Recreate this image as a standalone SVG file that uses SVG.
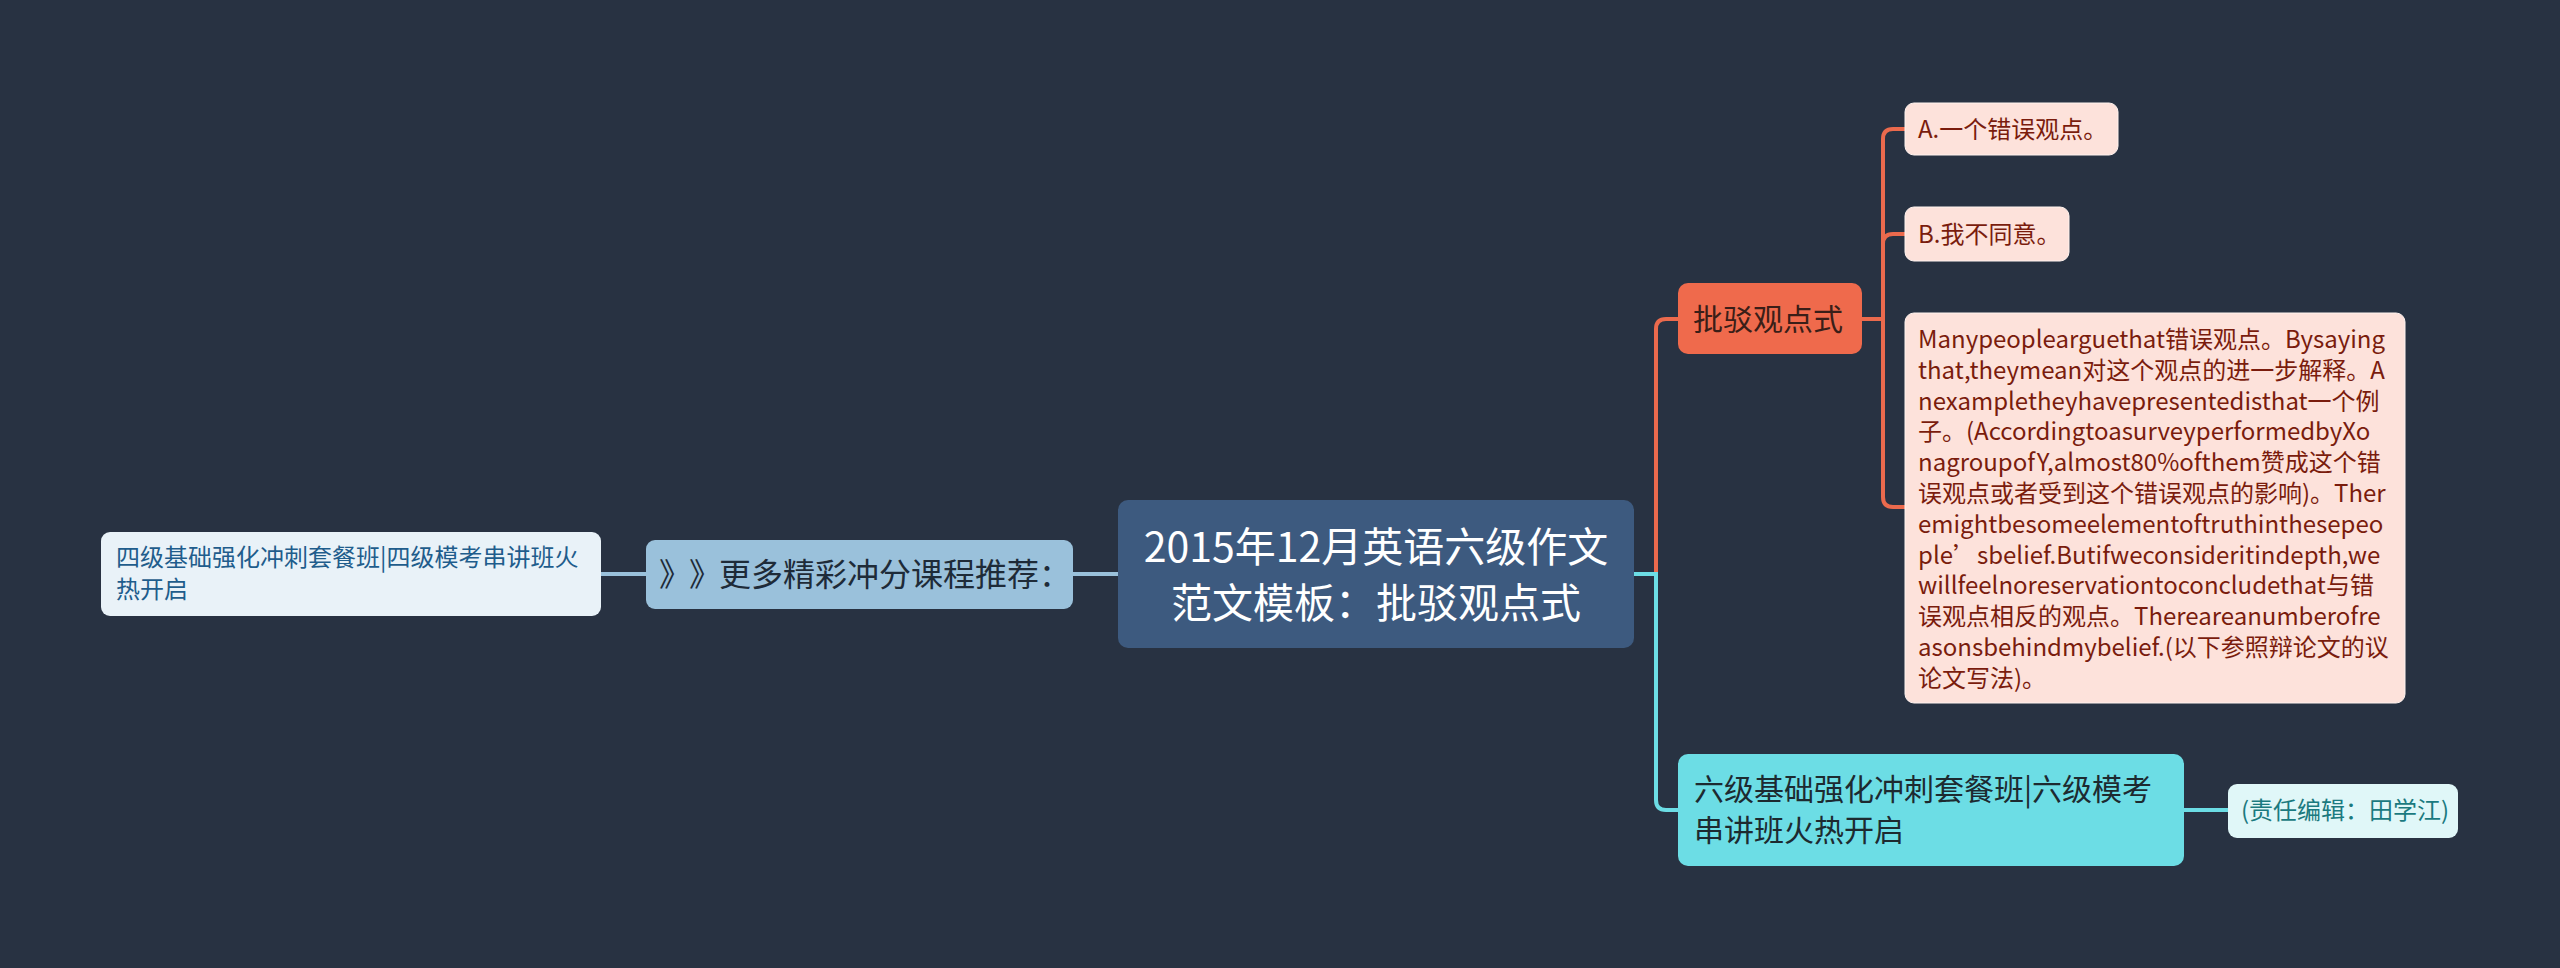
<svg xmlns="http://www.w3.org/2000/svg" width="2560" height="968" viewBox="0 0 2560 968">
<style>
text{font-family:"Noto Sans CJK SC","Noto Sans",sans-serif;}
.conn{fill:none;stroke-width:4;stroke-linecap:round;}
.blue{stroke:#9ac1db;}
.orange{stroke:#eb6a4d;}
.cyan{stroke:#6cdde5;}
.peach{fill:#fde2db;stroke:#fff3ef;stroke-width:1;}
.peachT{fill:#7a1c0d;font-size:24px;}
</style>
<rect width="2560" height="968" fill="#283242"/>
<g id="connectors">
<path class="conn blue" d="M601,574 H646"/>
<path class="conn blue" d="M1073,574 H1118"/>
<path class="conn orange" d="M1656,574 V329 Q1656,319 1666,319 H1678"/>
<path class="conn cyan" d="M1633,574 H1656 V800 Q1656,810 1666,810 H1678"/>
<path class="conn orange" d="M1862,319 H1883"/>
<path class="conn orange" d="M1883,319 V139 Q1883,129 1893,129 H1905"/>
<path class="conn orange" d="M1883,319 V244 Q1883,234 1893,234 H1905"/>
<path class="conn orange" d="M1883,319 V497 Q1883,507 1893,507 H1905"/>
<path class="conn cyan" d="M2184,810 H2228"/>
</g>
<g id="center">
<rect x="1118" y="500" width="516" height="148" rx="10" fill="#3d5a7f"/>
<text x="1376" y="562" font-size="41" fill="#ffffff" text-anchor="middle">2015年12月英语六级作文</text>
<text x="1376" y="618" font-size="41" fill="#ffffff" text-anchor="middle">范文模板：批驳观点式</text>
</g>
<g id="more">
<rect x="646" y="540" width="427" height="69" rx="9" fill="#9ac1db"/>
<text y="586" font-size="32" fill="#1e2b38"><tspan x="659">》</tspan><tspan x="689">》</tspan><tspan x="719">更多精彩冲分课程推荐：</tspan></text>
</g>
<g id="cet4">
<rect x="101" y="532" width="500" height="84" rx="9" fill="#e9f2f8"/>
<text font-size="24" fill="#1f5d8c"><tspan x="116" y="566">四级基础强化冲刺套餐班|四级模考串讲班火</tspan><tspan x="116" y="598">热开启</tspan></text>
</g>
<g id="bobo">
<rect x="1678" y="283" width="184" height="71" rx="10" fill="#ef6a4c"/>
<text x="1693" y="330" font-size="30" fill="#3a1e18">批驳观点式</text>
</g>
<g id="a">
<rect class="peach" x="1905" y="103" width="213" height="52" rx="9"/>
<text class="peachT" x="1918" y="137.5">A.一个错误观点。</text>
</g>
<g id="b">
<rect class="peach" x="1905" y="207" width="164" height="54" rx="9"/>
<text class="peachT" x="1918" y="242.5">B.我不同意。</text>
</g>
<g id="para">
<rect class="peach" x="1905" y="313" width="500" height="390" rx="9"/>
<text class="peachT">
<tspan x="1918" y="348">Manypeoplearguethat错误观点。Bysaying</tspan>
<tspan x="1918" y="378.8">that,theymean对这个观点的进一步解释。A</tspan>
<tspan x="1918" y="409.6">nexampletheyhavepresentedisthat一个例</tspan>
<tspan x="1918" y="440.4">子。(AccordingtoasurveyperformedbyXo</tspan>
<tspan x="1918" y="471.2">nagroupofY,almost80%ofthem赞成这个错</tspan>
<tspan x="1918" y="502">误观点或者受到这个错误观点的影响)。Ther</tspan>
<tspan x="1918" y="532.8">emightbesomeelementoftruthinthesepeo</tspan>
<tspan x="1918" y="563.6">ple’sbelief.Butifweconsideritindepth,we</tspan>
<tspan x="1918" y="594.4">willfeelnoreservationtoconcludethat与错</tspan>
<tspan x="1918" y="625.2">误观点相反的观点。Thereareanumberofre</tspan>
<tspan x="1918" y="656">asonsbehindmybelief.(以下参照辩论文的议</tspan>
<tspan x="1918" y="686.8">论文写法)。</tspan>
</text>
</g>
<g id="cet6">
<rect x="1678" y="754" width="506" height="112" rx="10" fill="#6cdde5"/>
<text font-size="30" fill="#1d2a30"><tspan x="1694" y="800">六级基础强化冲刺套餐班|六级模考</tspan><tspan x="1694" y="841">串讲班火热开启</tspan></text>
</g>
<g id="editor">
<rect x="2228" y="784" width="230" height="54" rx="9" fill="#e0f7f8"/>
<text x="2241" y="819" font-size="24" fill="#1b7a7f">(责任编辑：田学江)</text>
</g>
</svg>
